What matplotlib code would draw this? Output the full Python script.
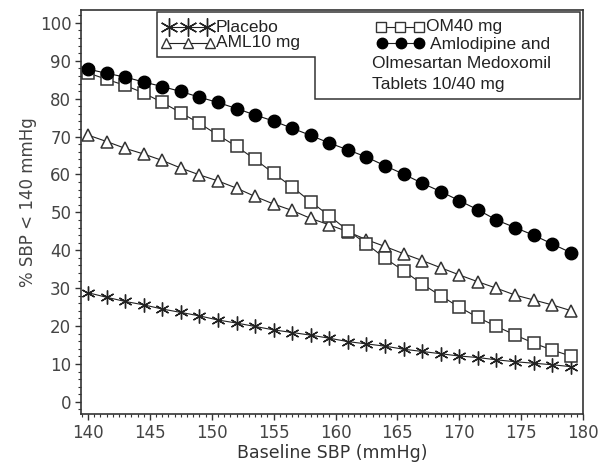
import matplotlib
matplotlib.use("Agg")
import matplotlib.pyplot as plt
import numpy as np
from matplotlib.ticker import MultipleLocator
from matplotlib.lines import Line2D
from matplotlib.patches import Polygon

# baseline SBP grid (every 1.5 mmHg)
baseline_sbp = [140 + 1.5 * i for i in range(27)]

placebo = [28.8, 27.6, 26.5, 25.6, 24.5, 23.6, 22.7, 21.6, 20.8, 19.9, 19.0, 18.3, 17.6, 16.8,
           15.9, 15.3, 14.7, 13.9, 13.3, 12.7, 12.1, 11.7, 11.1, 10.6, 10.2, 9.8, 9.3]
aml10 = [70.4, 68.7, 66.9, 65.4, 63.7, 61.7, 59.9, 58.3, 56.4, 54.2, 52.2, 50.5, 48.4, 46.7,
         44.9, 42.8, 41.0, 39.1, 37.3, 35.4, 33.5, 31.7, 30.0, 28.2, 26.9, 25.6, 24.1]
om40 = [86.8, 85.1, 83.5, 81.5, 79.0, 76.3, 73.5, 70.4, 67.4, 64.0, 60.3, 56.7, 52.8, 49.1,
        45.2, 41.7, 37.9, 34.6, 31.1, 28.0, 25.0, 22.3, 19.9, 17.7, 15.5, 13.7, 12.1]
combo = [87.8, 86.7, 85.7, 84.4, 83.2, 81.9, 80.4, 79.0, 77.4, 75.7, 74.1, 72.2, 70.3, 68.3,
         66.5, 64.6, 62.3, 60.1, 57.7, 55.5, 53.1, 50.7, 48.0, 46.0, 44.0, 41.7, 39.4]

W, H = 600, 468
fig = plt.figure(figsize=(6, 4.68), dpi=100, facecolor='white')
ax = fig.add_axes([81 / W, 1 - 414 / H, (583 - 81) / W, (414 - 10) / H])

def px(x, y):
    return (x / W, 1 - y / H)

star = (6, 2, 0)
ax.plot(baseline_sbp, placebo, color='#222', lw=0.8, marker=star, ms=10, mew=1.0, mec='#222')
ax.plot(baseline_sbp, aml10, color='#222', lw=0.8, marker='^', ms=9, mfc='white', mew=1.1, mec='#333')
ax.plot(baseline_sbp, om40, color='#222', lw=0.8, marker='s', ms=9, mfc='white', mew=1.1, mec='#333')
ax.plot(baseline_sbp, combo, color='#111', lw=0.8, marker='o', ms=9, mfc='black', mec='black')

ax.set_xlim(140 - 7 / 12.37, 180)
ax.set_ylim(-3.2, 103.4)
ax.xaxis.set_major_locator(MultipleLocator(5))
ax.xaxis.set_minor_locator(MultipleLocator(0.5))
ax.yaxis.set_major_locator(MultipleLocator(10))
ax.yaxis.set_minor_locator(MultipleLocator(2))
ax.tick_params(which='major', length=4, width=1, color='#333', labelsize=12, labelcolor='#444', pad=3)
ax.tick_params(which='minor', length=2.5, width=0.8, color='#333')
for s in ax.spines.values():
    s.set_color('#333')
    s.set_linewidth(1.2)

ax.set_xlabel('Baseline SBP (mmHg)', fontsize=12.5, color='#333', labelpad=2)
fig.text(28 / W, 1 - 202 / H, '% SBP < 140 mmHg', rotation=90, fontsize=12,
         color='#444', ha='center', va='center')

# legend box (stepped outline)
outline = [px(157, 12), px(580, 12), px(580, 99), px(315, 99), px(315, 57), px(157, 57)]
fig.patches.append(Polygon(outline, closed=True, fill=False, edgecolor='#333', lw=1.1,
                           transform=fig.transFigure))

def legend_sample(x0, x1, y, **kw):
    xs = np.linspace(x0, x1, 3)
    fx = [px(x, y)[0] for x in xs]
    fy = [px(x, y)[1] for x in xs]
    fig.lines.append(Line2D(fx, fy, transform=fig.transFigure, color='#222', lw=0.8, **kw))

legend_sample(169, 207, 27, marker=star, ms=13, mew=1.0, mec='#222')
legend_sample(166, 210, 43, marker='^', ms=7, mfc='white', mew=1.0, mec='#333')
legend_sample(381, 419, 27, marker='s', ms=7, mfc='white', mew=1.0, mec='#333')
legend_sample(382, 419, 43, marker='o', ms=7.5, mfc='black', mec='black')

tkw = dict(fontsize=12.5, family='Liberation Sans', color='#222', va='center', ha='left')
fig.text(*px(216, 27), 'Placebo', **tkw)
fig.text(*px(216, 43), 'AML10 mg', **tkw)
fig.text(*px(426, 27), 'OM40 mg', **tkw)
fig.text(*px(430, 44), 'Amlodipine and', **tkw)
fig.text(*px(372, 64), 'Olmesartan Medoxomil', **tkw)
fig.text(*px(372, 84), 'Tablets 10/40 mg', **tkw)

fig.savefig('out.png', dpi=100, facecolor='white')
